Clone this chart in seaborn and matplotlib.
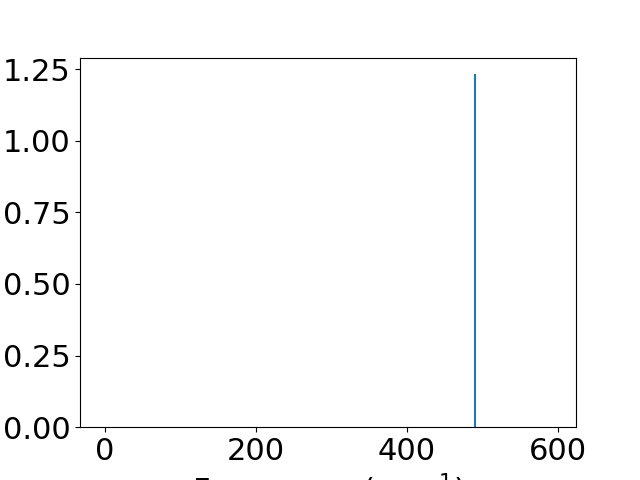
import matplotlib
matplotlib.use("Agg")
import matplotlib.pyplot as plt
import seaborn as sns
import pandas as pd

# Data
peak_freq = [490.0, 490.0]
peak_intensity = [0.0, 1.23]
x_ticks = [0, 200, 400, 600]
y_ticks = [0.00, 0.25, 0.50, 0.75, 1.00, 1.25]

plt.rcParams['font.size'] = 22

df = pd.DataFrame({"freq": peak_freq, "intensity": peak_intensity})

fig, ax = plt.subplots(figsize=(6.4, 4.8), dpi=100)
sns.lineplot(data=df, x="freq", y="intensity", estimator=None, sort=False,
             color="#1f77b4", linewidth=1.5, ax=ax)
ax.set_xlim(-33, 624)
ax.set_ylim(0, 1.29)
ax.set_xticks(x_ticks)
ax.set_yticks(y_ticks)
ax.set_xlabel("Frequency (cm$^{-1}$)")
ax.set_ylabel("")
fig.savefig("out.png", dpi=100)
